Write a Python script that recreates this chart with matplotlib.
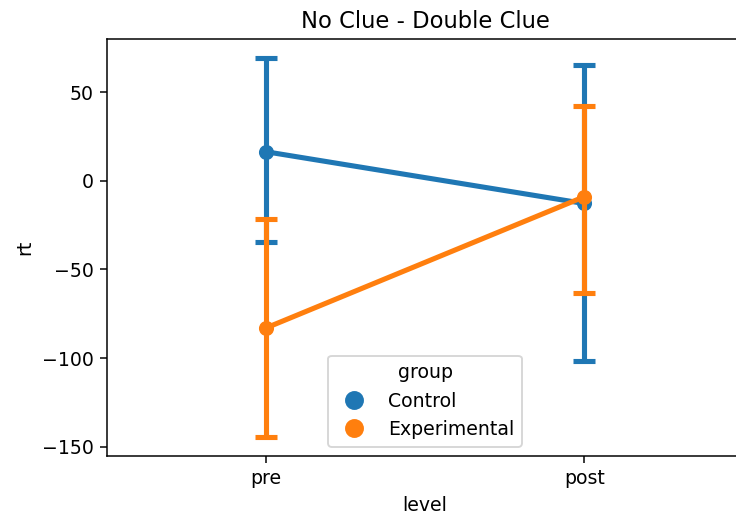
import matplotlib
matplotlib.use("Agg")
import matplotlib.pyplot as plt
from matplotlib.lines import Line2D
import numpy as np

levels = ["pre", "post"]
groups = ["Control", "Experimental"]
colors = ["#1f77b4", "#ff7f0e"]

# mean rt and 95% CI bounds per group, for pre / post
means = {"Control": [16.4, -12.8], "Experimental": [-83.0, -9.0]}
ci_low = {"Control": [-34.4, -101.6], "Experimental": [-144.5, -63.5]}
ci_high = {"Control": [69.1, 65.3], "Experimental": [-21.6, 42.2]}

dpi = 136
fig = plt.figure(figsize=(736 / dpi, 518 / dpi), dpi=dpi)
ax = fig.add_axes([0.145, 0.1197, 0.865, 0.8044])

x = np.arange(len(levels))
lw = 2.7
for g, c in zip(groups, colors):
    m = np.array(means[g])
    lo = np.array(ci_low[g])
    hi = np.array(ci_high[g])
    ax.errorbar(x, m, yerr=[m - lo, hi - m], fmt="none", ecolor=c,
                elinewidth=lw, capsize=5.8, capthick=lw)
    ax.plot(x, m, color=c, lw=lw, marker="o", markersize=8,
            markeredgewidth=0)

ax.set_xlim(-0.5, len(levels) - 0.5)
ax.set_xticks(x)
ax.set_xticklabels(levels)
ax.set_xlabel("level")
ax.set_ylabel("rt")
ax.set_title("No Clue - Double Clue")

handles = [Line2D([], [], marker="o", linestyle="none", color=c,
                  markersize=9) for c in colors]
ax.legend(handles, groups, title="group", loc="lower center")

fig.savefig("out.png", dpi=dpi)
